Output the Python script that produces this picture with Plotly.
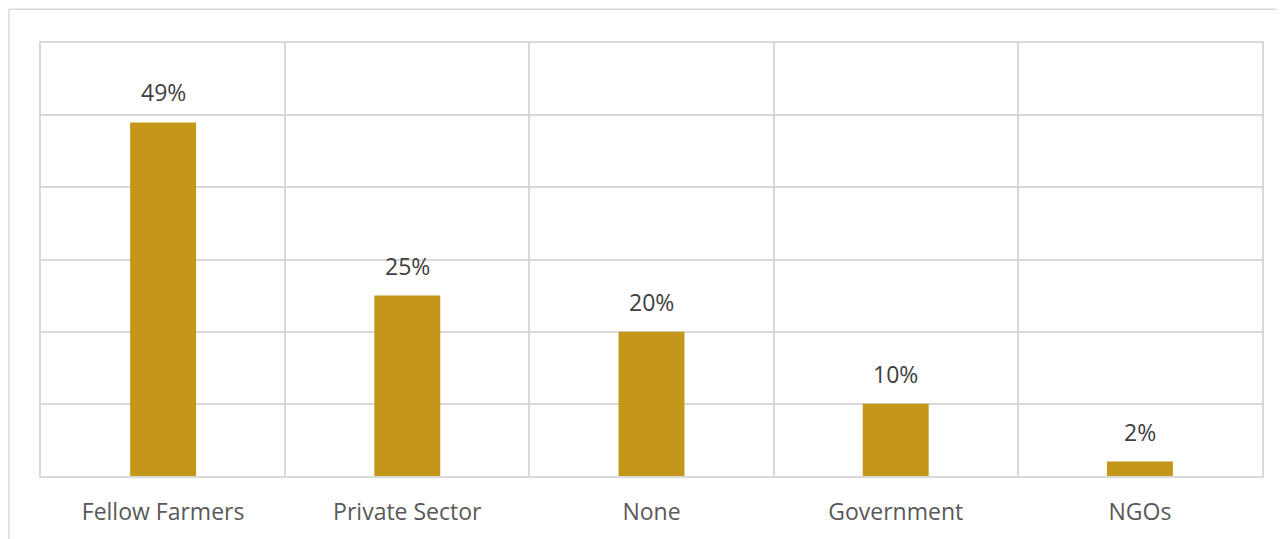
import plotly.graph_objects as go

categories = ["Fellow Farmers", "Private Sector", "None", "Government", "NGOs"]
values = [49, 25, 20, 10, 2]
labels = ["49%", "25%", "20%", "10%", "2%"]

BAR = "#C4961A"
GRID = "#D9D9D9"
FONT = "Open Sans, Noto Sans, sans-serif"

fig = go.Figure()
fig.add_trace(go.Bar(x=categories, y=values, marker=dict(color=BAR, line=dict(width=0)),
                     width=0.27, hoverinfo="skip"))

for c, v, t in zip(categories, values, labels):
    fig.add_annotation(x=c, y=v, text=t, showarrow=False, yanchor="bottom", yshift=12,
                       font=dict(family=FONT, size=23, color="#404040"))

OFF = 8  # page body margin
L, R, T, B = 33, 22, 35, 59
W, H = 1276, 531
pw, ph = W - L - R, H - T - B
px = lambda p: (p - OFF - L) / pw
py = lambda p: (H - B - (p - OFF)) / ph

# outer chart border (top and left)
fig.add_shape(type="line", xref="paper", yref="paper", x0=px(8.5), x1=px(1300), y0=py(9), y1=py(9),
              line=dict(color=GRID, width=1.5))
fig.add_shape(type="line", xref="paper", yref="paper", x0=px(9), x1=px(9), y0=py(9), y1=py(560),
              line=dict(color=GRID, width=1.5))

fig.update_layout(
    width=W, height=H,
    margin=dict(l=L, r=R, t=T, b=B),
    paper_bgcolor="white", plot_bgcolor="white",
    showlegend=False,
    xaxis=dict(type="category", tickson="boundaries", showgrid=True, gridcolor=GRID, gridwidth=1.5,
               showline=True, linecolor=GRID, linewidth=1.5, mirror=True,
               ticks="", ticklabelstandoff=15,
               tickfont=dict(family=FONT, size=23, color="#595959")),
    yaxis=dict(range=[0, 60], dtick=10, showgrid=True, gridcolor=GRID, gridwidth=1.5,
               showticklabels=False, zeroline=False,
               showline=True, linecolor=GRID, linewidth=1.5, mirror=True),
)

fig.write_html("out.html")
